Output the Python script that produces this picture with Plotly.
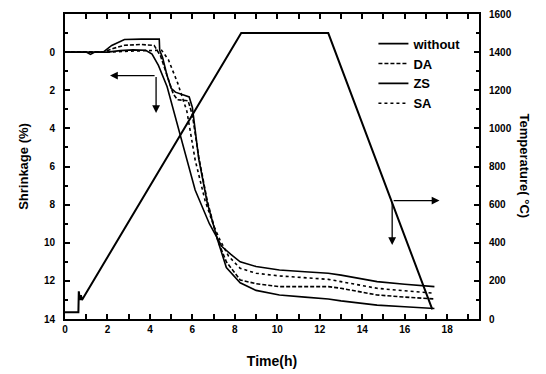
import plotly.graph_objects as go

# ---- data ----
t_without = [0, 1.0, 1.2, 1.4, 2.0, 2.6, 3.2, 3.8, 4.1, 4.4, 4.81, 5.1, 5.5, 6.13, 6.8, 7.39, 7.8, 8.25, 9.0, 10.1, 11.3, 12.4, 13.0, 14.7, 16.0, 17.4]
s_without = [0, 0, 0.12, 0, 0, -0.08, -0.12, -0.1, 0.1, 0.7, 1.82, 3.0, 4.6, 7.23, 9.0, 10.2, 10.6, 11.0, 11.25, 11.43, 11.52, 11.6, 11.7, 12.04, 12.18, 12.3]

t_DA = [0, 1.8, 2.3, 2.8, 3.6, 4.2, 4.5, 4.8, 5.1, 5.3, 5.8, 6.0, 6.3, 6.7, 7.2, 7.6, 8.25, 9.0, 10.1, 11.3, 12.4, 13.0, 14.7, 16.0, 17.4]
s_DA = [0, 0, -0.2, -0.36, -0.4, -0.35, 0.2, 1.2, 2.2, 2.5, 2.55, 3.3, 5.5, 7.8, 9.9, 11.0, 11.95, 12.15, 12.3, 12.3, 12.3, 12.39, 12.74, 12.85, 12.95]

t_ZS = [0, 1.8, 2.2, 2.8, 3.6, 4.44, 4.46, 4.6, 4.8, 5.0, 5.2, 5.5, 5.85, 6.0, 6.3, 6.7, 7.2, 7.6, 8.25, 9.0, 10.1, 11.3, 12.4, 13.0, 14.7, 16.0, 17.4]
s_ZS = [0, 0, -0.35, -0.66, -0.68, -0.68, -0.1, 0.3, 1.2, 1.9, 2.1, 2.2, 2.35, 2.9, 5.6, 7.9, 9.9, 11.3, 12.1, 12.5, 12.74, 12.85, 12.95, 13.05, 13.27, 13.36, 13.45]

t_SA = [0, 2.0, 3.0, 4.0, 4.55, 4.87, 5.3, 5.74, 5.98, 6.13, 6.6, 7.0, 7.3, 7.7, 8.25, 9.0, 10.1, 11.3, 12.4, 13.0, 14.7, 16.0, 17.4]
s_SA = [0, 0, -0.05, -0.1, -0.1, 0.4, 1.6, 3.1, 4.6, 5.65, 7.8, 9.1, 9.85, 10.7, 11.34, 11.6, 11.74, 11.84, 11.92, 12.04, 12.39, 12.52, 12.65]

t_temp = [0, 0.63, 0.65, 0.7, 0.75, 0.8, 8.3, 12.4, 17.3]
temp = [35, 35, 145, 100, 125, 100, 1500, 1500, 50]

series_names = ["without", "DA", "ZS", "SA"]
x_ticks = [0, 2, 4, 6, 8, 10, 12, 14, 16, 18]
y_ticks = [0, 2, 4, 6, 8, 10, 12, 14]
y2_ticks = [0, 200, 400, 600, 800, 1000, 1200, 1400, 1600]

fig = go.Figure()
styles = [
    (t_without, s_without, "solid"),
    (t_DA, s_DA, "4px,2px"),
    (t_ZS, s_ZS, "solid"),
    (t_SA, s_SA, "dot"),
]
for name, (tx, sy, dash) in zip(series_names, styles):
    fig.add_trace(go.Scatter(x=tx, y=sy, mode="lines", name=name,
                             line=dict(color="black", width=1.6, dash=dash)))

fig.add_trace(go.Scatter(x=t_temp, y=temp, mode="lines", yaxis="y2", showlegend=False,
                         line=dict(color="black", width=2)))

tickfont = dict(family="Arial", size=10, color="black", weight="bold")
common = dict(showline=True, linecolor="black", linewidth=2, ticks="inside",
              tickcolor="black", tickwidth=2, ticklen=5, showgrid=False, zeroline=False,
              tickfont=tickfont, automargin=False)

fig.update_layout(
    width=546, height=374,
    margin=dict(l=65, r=67, t=14, b=55),
    plot_bgcolor="white", paper_bgcolor="white",
    xaxis=dict(range=[0, 19.5], tickvals=x_ticks, mirror="allticks",
               minor=dict(dtick=1, ticks="inside", ticklen=3, tickcolor="black", tickwidth=2),
               title=dict(text="Time(h)", font=dict(family="Arial", size=14, color="black", weight="bold"),
                          standoff=22),
               **common),
    yaxis=dict(range=[14, -2], tickvals=y_ticks, ticklabelstandoff=6,
               minor=dict(tickvals=[-1, 1, 3, 5, 7, 9, 11, 13], ticks="inside", ticklen=3,
                          tickcolor="black", tickwidth=2),
               title=dict(text="Shrinkage (%)", font=dict(family="Arial", size=13, color="black", weight="bold"),
                          standoff=12),
               **common),
    yaxis2=dict(range=[0, 1600], tickvals=y2_ticks, overlaying="y", side="right", ticklabelstandoff=6,
                minor=dict(dtick=100, ticks="inside", ticklen=3, tickcolor="black", tickwidth=2),
                **common),
    legend=dict(x=0.745, y=0.952, xanchor="left", yanchor="top", bgcolor="rgba(0,0,0,0)",
                font=dict(family="Arial", size=13, color="black", weight="bold"),
                tracegroupgap=0, itemwidth=30),
    showlegend=True,
)

fig.add_annotation(text="Temperature( °C)", textangle=90, xref="paper", yref="paper",
                   x=1.111, xanchor="center", y=0.5, showarrow=False,
                   font=dict(family="Arial", size=13, color="black", weight="bold"))

arrow = dict(showarrow=True, arrowhead=2, arrowsize=1.2, arrowwidth=1.3, arrowcolor="black",
             xref="x", yref="y", axref="x", ayref="y", text="")
fig.add_annotation(x=2.12, y=1.23, ax=4.29, ay=1.23, **arrow)
fig.add_annotation(x=4.29, y=3.19, ax=4.29, ay=1.23, **arrow)
fig.add_annotation(x=17.64, y=7.79, ax=15.41, ay=7.79, **arrow)
fig.add_annotation(x=15.41, y=10.12, ax=15.41, ay=7.79, **arrow)

fig.write_html("out.html")
